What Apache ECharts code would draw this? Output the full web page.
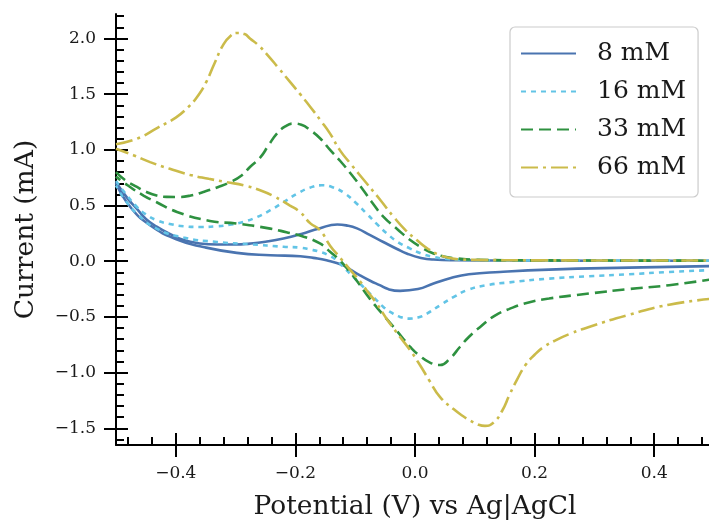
<!DOCTYPE html>
<html>
<head>
<meta charset="utf-8">
<script src="https://cdn.jsdelivr.net/npm/echarts@6/dist/echarts.min.js"></script>
<style>
  html, body { margin: 0; padding: 0; background: #fff; }
  #main { width: 709px; height: 520px; }
</style>
</head>
<body>
<div id="main"></div>
<script>
// cyclic voltammograms: forward sweep -0.5 -> 0.5 V, then back to -0.5 V
const names = ['8 mM', '16 mM', '33 mM', '66 mM']

const v8 = [-0.5, -0.48, -0.465, -0.45, -0.432, -0.41, -0.387, -0.36, -0.331, -0.3, -0.276, -0.25, -0.22, -0.19, -0.16, -0.13, -0.115, -0.097, -0.075, -0.053, -0.03, -0.014, 0.01, 0.031, 0.07, 0.15, 0.3, 0.5,
  0.5, 0.358, 0.224, 0.142, 0.09, 0.06, 0.031, 0.005, -0.025, -0.045, -0.059, -0.075, -0.092, -0.108, -0.12, -0.148, -0.17, -0.192, -0.242, -0.298, -0.354, -0.398, -0.443, -0.476, -0.5]
const i8 = [0.71, 0.56, 0.47, 0.38, 0.31, 0.245, 0.19, 0.16, 0.15, 0.15, 0.158, 0.175, 0.204, 0.245, 0.295, 0.33, 0.322, 0.295, 0.235, 0.173, 0.11, 0.07, 0.03, 0.015, 0.009, 0.006, 0.005, 0.004,
  -0.043, -0.057, -0.075, -0.096, -0.117, -0.15, -0.2, -0.25, -0.266, -0.25, -0.215, -0.175, -0.126, -0.075, -0.036, 0.009, 0.03, 0.045, 0.054, 0.075, 0.128, 0.195, 0.323, 0.487, 0.7]

const v16 = [-0.5, -0.48, -0.465, -0.45, -0.432, -0.41, -0.387, -0.36, -0.331, -0.31, -0.287, -0.265, -0.242, -0.22, -0.197, -0.176, -0.156, -0.138, -0.119, -0.1, -0.081, -0.064, -0.047, -0.028, -0.008, 0.01, 0.031, 0.05, 0.07, 0.15, 0.3, 0.5,
  0.5, 0.425, 0.358, 0.291, 0.224, 0.157, 0.12, 0.087, 0.065, 0.042, 0.02, 0.005, -0.01, -0.025, -0.04, -0.053, -0.067, -0.081, -0.095, -0.109, -0.12, -0.131, -0.145, -0.159, -0.175, -0.192, -0.22, -0.276, -0.331, -0.387, -0.432, -0.465, -0.485, -0.5]
const i16 = [0.72, 0.58, 0.487, 0.42, 0.368, 0.335, 0.314, 0.308, 0.314, 0.328, 0.353, 0.395, 0.458, 0.53, 0.607, 0.66, 0.682, 0.665, 0.615, 0.53, 0.428, 0.335, 0.249, 0.17, 0.114, 0.07, 0.039, 0.022, 0.015, 0.008, 0.006, 0.005,
  -0.079, -0.096, -0.117, -0.135, -0.156, -0.19, -0.215, -0.26, -0.32, -0.395, -0.47, -0.505, -0.515, -0.5, -0.46, -0.41, -0.335, -0.26, -0.185, -0.11, -0.05, 0.009, 0.055, 0.084, 0.105, 0.122, 0.13, 0.153, 0.173, 0.213, 0.293, 0.428, 0.55, 0.68]

const v33 = [-0.5, -0.485, -0.465, -0.45, -0.432, -0.415, -0.398, -0.375, -0.354, -0.33, -0.309, -0.29, -0.276, -0.259, -0.245, -0.231, -0.217, -0.203, -0.19, -0.175, -0.158, -0.142, -0.125, -0.108, -0.09, -0.072, -0.053, -0.03, -0.008, 0.012, 0.031, 0.05, 0.07, 0.1, 0.2, 0.35, 0.5,
  0.5, 0.425, 0.358, 0.291, 0.224, 0.19, 0.157, 0.133, 0.109, 0.09, 0.075, 0.059, 0.042, 0.025, 0.008, -0.008, -0.022, -0.036, -0.055, -0.075, -0.098, -0.11, -0.126, -0.142, -0.159, -0.186, -0.215, -0.242, -0.298, -0.343, -0.398, -0.432, -0.454, -0.48, -0.5]
const i33 = [0.8, 0.73, 0.667, 0.625, 0.59, 0.578, 0.577, 0.59, 0.622, 0.665, 0.71, 0.77, 0.846, 0.93, 1.04, 1.146, 1.21, 1.236, 1.225, 1.176, 1.1, 1.0, 0.9, 0.79, 0.665, 0.53, 0.4, 0.29, 0.19, 0.12, 0.07, 0.04, 0.025, 0.014, 0.008, 0.006, 0.005,
  -0.16, -0.215, -0.25, -0.29, -0.335, -0.37, -0.43, -0.49, -0.59, -0.68, -0.77, -0.87, -0.932, -0.91, -0.85, -0.77, -0.68, -0.59, -0.47, -0.34, -0.17, -0.09, 0.01, 0.085, 0.16, 0.22, 0.26, 0.293, 0.338, 0.362, 0.443, 0.53, 0.59, 0.68, 0.76]

const v66 = [-0.5, -0.465, -0.43, -0.4, -0.38, -0.365, -0.35, -0.335, -0.32, -0.308, -0.298, -0.285, -0.276, -0.262, -0.248, -0.229, -0.209, -0.192, -0.175, -0.158, -0.142, -0.126, -0.108, -0.081, -0.058, -0.036, -0.016, 0.003, 0.022, 0.042, 0.06, 0.075, 0.1, 0.2, 0.35, 0.5,
  0.5, 0.425, 0.358, 0.291, 0.26, 0.235, 0.215, 0.2, 0.185, 0.17, 0.158, 0.146, 0.131, 0.117, 0.105, 0.092, 0.08, 0.065, 0.042, 0.025, 0.008, -0.008, -0.025, -0.047, -0.064, -0.081, -0.092, -0.108, -0.125, -0.142, -0.159, -0.175, -0.192, -0.209, -0.235, -0.259, -0.285, -0.315, -0.345, -0.376, -0.41, -0.443, -0.47, -0.5]
const i66 = [1.05, 1.1, 1.2, 1.29, 1.38, 1.47, 1.6, 1.78, 1.95, 2.025, 2.05, 2.04, 2.0, 1.94, 1.86, 1.74, 1.61, 1.5, 1.385, 1.265, 1.146, 1.0, 0.877, 0.7, 0.55, 0.4, 0.28, 0.19, 0.11, 0.054, 0.027, 0.017, 0.012, 0.008, 0.007, 0.006,
  -0.335, -0.39, -0.48, -0.59, -0.65, -0.71, -0.77, -0.84, -0.93, -1.07, -1.2, -1.34, -1.45, -1.478, -1.465, -1.43, -1.39, -1.33, -1.22, -1.08, -0.93, -0.8, -0.68, -0.52, -0.38, -0.26, -0.18, -0.08, 0.03, 0.14, 0.28, 0.34, 0.44, 0.5, 0.58, 0.637, 0.68, 0.71, 0.74, 0.775, 0.83, 0.89, 0.95, 1.01]

const majorX = [-0.4, -0.2, 0, 0.2, 0.4]
const minorX = [-0.48, -0.44, -0.36, -0.32, -0.28, -0.24, -0.16, -0.12, -0.08, -0.04, 0.04, 0.08, 0.12, 0.16, 0.24, 0.28, 0.32, 0.36, 0.44, 0.48]
const majorY = [-1.5, -1, -0.5, 0, 0.5, 1, 1.5, 2]
const minorY = [-1.6, -1.4, -1.3, -1.2, -1.1, -0.9, -0.8, -0.7, -0.6, -0.4, -0.3, -0.2, -0.1, 0.1, 0.2, 0.3, 0.4, 0.6, 0.7, 0.8, 0.9, 1.1, 1.2, 1.3, 1.4, 1.6, 1.7, 1.8, 1.9, 2.1, 2.2]

const colors = ['#4a74b0', '#62c4e6', '#2e9140', '#cbbb4a']
const dashes = ['solid', [5, 5], [12, 6], [17, 5, 3, 5]]
const curves = [[v8, i8], [v16, i16], [v33, i33], [v66, i66]]

const font = 'DejaVu Serif'
const fmt = (v) => (v < 0 ? '\u2212' : '') + Math.abs(v).toFixed(1)

// one axis draws the line, labels and outward half of major ticks;
// two more axes add the inward major ticks and the inward minor ticks
function axes(min, max, major, minor, extra) {
    const base = { type: 'value', min: min, max: max, splitLine: { show: false } }
    const tickStyle = { color: '#000', width: 2 }
    return [
        Object.assign({}, base, extra, {
            axisLine: { show: true, onZero: false, lineStyle: { color: '#000', width: 2 } },
            axisTick: { show: true, inside: false, length: 12, customValues: major, lineStyle: tickStyle },
            axisLabel: { show: true, customValues: major, formatter: fmt, fontFamily: font, fontSize: 17, color: '#1a1a1a', margin: 20 },
        }),
        Object.assign({}, base, {
            position: extra.position,
            axisLine: { show: false, onZero: false },
            axisTick: { show: true, inside: true, length: 12, customValues: major, lineStyle: tickStyle },
            axisLabel: { show: false },
        }),
        Object.assign({}, base, {
            position: extra.position,
            axisLine: { show: false, onZero: false },
            axisTick: { show: true, inside: true, length: 8, customValues: minor, lineStyle: tickStyle },
            axisLabel: { show: false },
        }),
    ]
}

// each curve is drawn as two series (forward and reverse sweep) sharing one legend name
const series = []
curves.forEach((c, k) => {
    const pts = c[0].map((v, j) => [v, c[1][j]])
    const turn = c[0].indexOf(0.5) + 1
    const style = {
        name: names[k],
        type: 'line',
        xAxisIndex: 0,
        yAxisIndex: 0,
        symbol: 'none',
        smooth: 0.5,
        itemStyle: { color: colors[k] },
        lineStyle: { color: colors[k], width: 2.6, type: dashes[k] },
    }
    series.push(Object.assign({}, style, { data: pts.slice(0, turn) }))
    series.push(Object.assign({}, style, { data: pts.slice(turn) }))
})

const myChart = echarts.init(document.getElementById('main'))

const option = {
    animation: false,
    backgroundColor: '#fff',
    grid: { left: 116, right: -5, top: 14, bottom: 75, containLabel: false, outerBoundsMode: 'none' },
    xAxis: axes(-0.5, 0.5, majorX, minorX, {
        position: 'bottom',
        name: 'Potential (V) vs Ag|AgCl', nameLocation: 'middle', nameGap: 49,
        nameTextStyle: { fontFamily: font, fontSize: 26.5, color: '#1a1a1a' },
    }),
    yAxis: axes(-1.65, 2.22, majorY, minorY, {
        position: 'left',
        name: 'Current (mA)', nameLocation: 'middle', nameGap: 76,
        nameTextStyle: { fontFamily: font, fontSize: 26.5, color: '#1a1a1a' },
    }),
    legend: {
        orient: 'vertical',
        left: 510,
        top: 27,
        padding: [14, 12, 17, 10],
        itemWidth: 55,
        itemHeight: 14,
        itemGap: 13,
        backgroundColor: 'rgba(255,255,255,0.8)',
        borderColor: '#cccccc',
        borderWidth: 1.2,
        borderRadius: 5,
        itemStyle: { opacity: 0 },
        textStyle: { fontFamily: font, fontSize: 25, color: '#1a1a1a', padding: [0, 0, 0, 16] },
        data: names,
    },
    series: series,
}

myChart.setOption(option)
</script>
</body>
</html>
